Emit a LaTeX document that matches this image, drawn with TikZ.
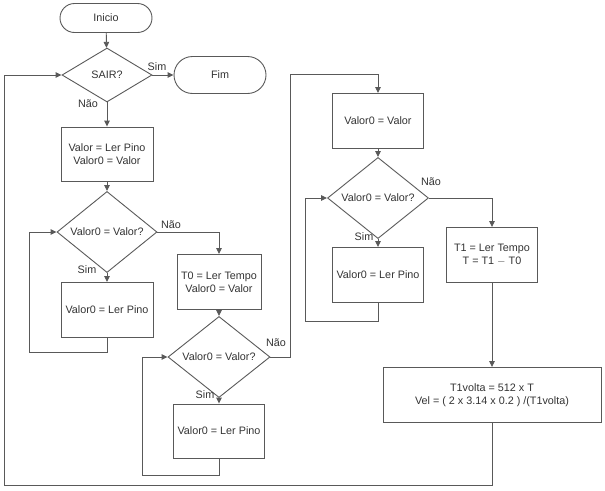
\documentclass[tikz,border=0pt]{standalone}
\usepackage{fontspec}
\setmainfont{Liberation Sans}
\usetikzlibrary{arrows.meta,shapes.geometric,shapes.misc}

\tikzset{
  every node/.style={font=\fontsize{10.8}{12.8}\selectfont, text=black!80},
  terminal/.style={rounded rectangle, draw=black!65, line width=0.9pt, inner sep=0pt, minimum width=92},
  proc/.style={rectangle, draw=black!65, line width=0.9pt, align=center, inner sep=0pt, minimum height=55},
  decision/.style={diamond, draw=black!65, line width=0.9pt, inner sep=0pt},
  arr/.style={draw=black!65, line width=0.9pt, -{Triangle[length=6pt,width=5.5pt]}},
  lbl/.style={inner sep=0pt}
}

\begin{document}
\begin{tikzpicture}[x=1pt,y=-1pt]
  \useasboundingbox (0,0) rectangle (605,490);

  % main column
  \node[terminal, minimum height=29] (ini) at (106,18) {Inicio};
  \node[decision, minimum width=90, minimum height=54] (sair) at (107,75) {SAIR?};
  \node[terminal, minimum height=37] (fim) at (220,75) {Fim};
  \node[proc, minimum width=92, minimum height=54] (b1) at (107,154) {Valor = Ler Pino\\Valor0 = Valor};
  \node[decision, minimum width=100, minimum height=61] (d2) at (107,232) {Valor0 = Valor?};
  \node[proc, minimum width=92] (b2) at (107,310) {Valor0 = Ler Pino};

  % second column
  \node[proc, minimum width=84] (bt0) at (219,282) {T0 = Ler Tempo\\Valor0 = Valor};
  \node[decision, minimum width=102, minimum height=59] (d3) at (219,357) {Valor0 = Valor?};
  \node[proc, minimum width=91, minimum height=54] (b4) at (219,431) {Valor0 = Ler Pino};

  % third column
  \node[proc, minimum width=91] (b3) at (378,121) {Valor0 = Valor};
  \node[decision, minimum width=101, minimum height=61] (d4) at (378,198) {Valor0 = Valor?};
  \node[proc, minimum width=91] (b5) at (378,275) {Valor0 = Ler Pino};

  % right column
  \node[proc, minimum width=91] (bt1) at (492,255) {T1 = Ler Tempo\\T = T1 $-$ T0};
  \node[proc, minimum width=218] (b6) at (492,395) {T1volta = 512 x T\\Vel = ( 2 x 3.14 x 0.2 ) /(T1volta)};

  % corners of the loops
  \coordinate (l2) at (29,352);
  \coordinate (l4) at (142,475);
  \coordinate (r3) at (290,74);
  \coordinate (l5) at (305,321);
  \coordinate (lb) at (4,485);

  \draw[arr] (ini) -- (sair);
  \draw[arr] (sair) -- (fim);
  \draw[arr] (sair) -- (b1);
  \draw[arr] (b1) -- (d2);
  \draw[arr] (d2.east) -| (bt0.north);
  \draw[arr] (d2) -- (b2);
  \draw[arr] (b2.south) |- (l2) |- (d2.west);
  \draw[arr] (bt0) -- (d3);
  \draw[arr] (d3) -- (b4);
  \draw[arr] (b4.south) |- (l4) |- (d3.west);
  \draw[arr] (d3.east) -| (r3) -| (b3.north);
  \draw[arr] (b3) -- (d4);
  \draw[arr] (d4.east) -| (bt1.north);
  \draw[arr] (d4) -- (b5);
  \draw[arr] (b5.south) |- (l5) |- (d4.west);
  \draw[arr] (bt1) -- (b6);
  \draw[arr] (b6.south) |- (lb) |- (sair.west);

  \node[lbl] (sim1) at (157,67) {Sim};
  \node[lbl] (nao1) at (88,104) {Não};
  \node[lbl] (nao2) at (171,225) {Não};
  \node[lbl] (sim2) at (87,270) {Sim};
  \node[lbl] (nao3) at (276,343) {Não};
  \node[lbl] (sim3) at (205,395) {Sim};
  \node[lbl] (nao4) at (431,182) {Não};
  \node[lbl] (sim4) at (364,237) {Sim};
\end{tikzpicture}
\end{document}
